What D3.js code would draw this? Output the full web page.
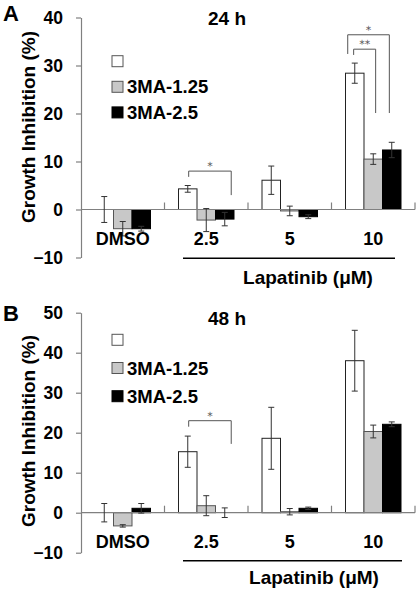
<!DOCTYPE html>
<html>
<head>
<meta charset="utf-8">
<script src="https://cdn.jsdelivr.net/npm/d3@7/dist/d3.min.js"></script>
<style>
  html, body { margin: 0; padding: 0; background: #fff; }
  svg { display: block; font-family: Arial, "Liberation Sans", Helvetica, sans-serif; }
</style>
</head>
<body>
<svg id="chart" width="419" height="592"></svg>
<script>
// ---------- data ----------
const groups = ["DMSO", "2.5", "5", "10"];
const seriesNames = ["", "3MA-1.25", "3MA-2.5"];

// Panel A: 24 h
const a24Control = [0, 4.3, 6.1, 28.4];
const a24ControlErr = [2.7, 0.7, 2.95, 2.1];
const a24MA125 = [-4.0, -2.2, -0.3, 10.5];
const a24MA125Err = [1.5, 2.4, 1.0, 1.1];
const a24MA25 = [-4.0, -2.0, -1.5, 12.4];
const a24MA25Err = [0.5, 1.4, 0.4, 1.6];
const a24Ticks = [-10, 0, 10, 20, 30, 40];

// Panel B: 48 h
const b48Control = [0, 15.25, 18.6, 38.0];
const b48ControlErr = [2.3, 3.9, 7.75, 7.6];
const b48MA125 = [-3.3, 1.75, 0.25, 20.3];
const b48MA125Err = [0.3, 2.5, 0.8, 1.6];
const b48MA25 = [1.1, 0.0, 1.1, 22.1];
const b48MA25Err = [1.2, 1.2, 0.3, 0.6];
const b48Ticks = [-10, 0, 10, 20, 30, 40, 50];

// significance brackets: group, from series, to series, top value, left leg end, right leg end, label
const a24Sig = [
  { group: "2.5", from: 0, to: 2, fromF: 0.55, toF: 0.85, top: 8.0, leftEnd: 6.8, rightEnd: 3.0, label: "*" },
  { group: "10", from: 0, to: 2, fromF: 0.12, toF: 0.37, top: 36.4, leftEnd: 32.4, rightEnd: 20.1, label: "*" },
  { group: "10", from: 0, to: 1, fromF: 0.44, toF: 0.63, top: 33.4, leftEnd: 32.2, rightEnd: 20.1, label: "**" }
];
const b48Sig = [
  { group: "2.5", from: 0, to: 2, fromF: 0.55, toF: 0.85, top: 23.0, leftEnd: 21.5, rightEnd: 17.2, label: "*" }
];

// ---------- layout ----------
const colors = ["#ffffff", "#c8c8c8", "#000000"];
const strokes = ["#222222", "#555555", "#000000"];
const axisColor = "#808080";

const panels = [
  {
    letter: "A", title: "24 h", ticks: a24Ticks,
    values: [a24Control, a24MA125, a24MA25], errs: [a24ControlErr, a24MA125Err, a24MA25Err], sig: a24Sig,
    yTop: 17.5, yBottom: 257.5, legendTop: 55.7, legendStep: 25.6,
    lapLine: [183, 395], lapLineY: 258.3, lapTextX: 308, lapTextY: 284,
    titleY: 25, letterY: 21, ylabelY: 127
  },
  {
    letter: "B", title: "48 h", ticks: b48Ticks,
    values: [b48Control, b48MA125, b48MA25], errs: [b48ControlErr, b48MA125Err, b48MA25Err], sig: b48Sig,
    yTop: 312.7, yBottom: 552.7, legendTop: 334.3, legendStep: 28.2,
    lapLine: [183, 402], lapLineY: 560.7, lapTextX: 314, lapTextY: 584,
    titleY: 325, letterY: 320.5, ylabelY: 431
  }
];

const svg = d3.select("#chart");
const xLeft = 81, xRight = 415;

const x0 = d3.scaleBand().domain(groups).range([xLeft, xRight]).paddingInner(0).paddingOuter(0);
const x1 = d3.scaleBand().domain(d3.range(seriesNames.length)).range([0, x0.bandwidth()]).paddingInner(0).paddingOuter(0.757);
const bw = x1.bandwidth();

panels.forEach(p => {
  const ticks = p.ticks;
  const y = d3.scaleLinear().domain([d3.min(ticks), d3.max(ticks)]).range([p.yBottom, p.yTop]);
  const g = svg.append("g");

  // y axis
  const yAxis = d3.axisLeft(y).tickValues(ticks).tickSize(5).tickSizeOuter(0).tickPadding(13).tickFormat(d3.format("d"));
  const ya = g.append("g").attr("transform", `translate(${xLeft},0)`).call(yAxis);
  ya.select(".domain").attr("stroke", axisColor).attr("stroke-width", 1.2);
  ya.selectAll(".tick line").attr("stroke", axisColor).attr("stroke-width", 1.2);
  ya.selectAll(".tick text").attr("fill", "#000").attr("font-size", "17.5px").attr("font-weight", "bold")
    .attr("font-family", "Arial, 'Liberation Sans', sans-serif");

  // bars
  const data = [];
  groups.forEach((grp, gi) => {
    p.values.forEach((vals, si) => {
      data.push({ group: grp, s: si, v: vals[gi], e: p.errs[si][gi] });
    });
  });

  g.selectAll("rect.bar").data(data).enter().append("rect")
    .attr("class", "bar")
    .attr("x", d => x0(d.group) + x1(d.s))
    .attr("width", bw)
    .attr("y", d => y(Math.max(0, d.v)))
    .attr("height", d => Math.abs(y(d.v) - y(0)))
    .attr("fill", d => colors[d.s])
    .attr("stroke", d => strokes[d.s])
    .attr("stroke-width", 1);

  // x axis line at zero
  g.append("line").attr("x1", xLeft).attr("x2", xRight).attr("y1", y(0)).attr("y2", y(0))
    .attr("stroke", axisColor).attr("stroke-width", 1.2);
  groups.forEach(grp => {
    const tx = x0(grp) + x0.bandwidth();
    g.append("line").attr("x1", tx).attr("x2", tx).attr("y1", y(0)).attr("y2", y(0) - 7)
      .attr("stroke", axisColor).attr("stroke-width", 1.2);
  });

  // error bars
  const cap = 3;
  const eb = g.selectAll("g.err").data(data).enter().append("g").attr("class", "err")
    .attr("stroke", "#333").attr("stroke-width", 1);
  eb.append("line")
    .attr("x1", d => x0(d.group) + x1(d.s) + bw / 2).attr("x2", d => x0(d.group) + x1(d.s) + bw / 2)
    .attr("y1", d => y(d.v + d.e)).attr("y2", d => y(d.v - d.e));
  eb.append("line")
    .attr("x1", d => x0(d.group) + x1(d.s) + bw / 2 - cap).attr("x2", d => x0(d.group) + x1(d.s) + bw / 2 + cap)
    .attr("y1", d => y(d.v + d.e)).attr("y2", d => y(d.v + d.e));
  eb.append("line")
    .attr("x1", d => x0(d.group) + x1(d.s) + bw / 2 - cap).attr("x2", d => x0(d.group) + x1(d.s) + bw / 2 + cap)
    .attr("y1", d => y(d.v - d.e)).attr("y2", d => y(d.v - d.e));

  // group labels
  groups.forEach(grp => {
    g.append("text").attr("x", x0(grp) + x0.bandwidth() / 2).attr("y", y(0) + 35.5)
      .attr("text-anchor", "middle").attr("font-size", "18px").attr("font-weight", "bold").text(grp);
  });

  // significance brackets
  p.sig.forEach(s => {
    const xl = x0(s.group) + x1(s.from) + bw * s.fromF;
    const xr = x0(s.group) + x1(s.to) + bw * s.toF;
    const path = d3.path();
    path.moveTo(xl, y(s.leftEnd));
    path.lineTo(xl, y(s.top));
    path.lineTo(xr, y(s.top));
    path.lineTo(xr, y(s.rightEnd));
    g.append("path").attr("d", path.toString()).attr("fill", "none").attr("stroke", "#555").attr("stroke-width", 1);
    g.append("text").attr("x", (xl + xr) / 2).attr("y", y(s.top) - 1)
      .attr("text-anchor", "middle").attr("font-size", "11px").attr("font-family", "'DejaVu Sans', sans-serif")
      .attr("fill", "#555").attr("text-rendering", "geometricPrecision").text(s.label);
  });

  // legend
  seriesNames.forEach((name, i) => {
    const ly = p.legendTop + i * p.legendStep;
    g.append("rect").attr("x", 112).attr("y", ly).attr("width", 11).attr("height", 11)
      .attr("fill", colors[i]).attr("stroke", i === 0 ? "#555" : strokes[i]).attr("stroke-width", 1);
    if (name) {
      g.append("text").attr("x", 127).attr("y", ly + 12).attr("font-size", "18.5px").attr("font-weight", "bold").text(name);
    }
  });

  // title
  g.append("text").attr("x", 208).attr("y", p.titleY).attr("font-size", "19px").attr("font-weight", "bold").text(p.title);
  // panel letter
  g.append("text").attr("x", 3).attr("y", p.letterY).attr("font-size", "22px").attr("font-weight", "bold").text(p.letter);
  // y label
  g.append("text").attr("transform", `translate(35,${p.ylabelY}) rotate(-90)`)
    .attr("text-anchor", "middle").attr("font-size", "19px").attr("font-weight", "bold").text("Growth Inhibition (%)");

  // Lapatinib line + label
  g.append("line").attr("x1", p.lapLine[0]).attr("x2", p.lapLine[1]).attr("y1", p.lapLineY).attr("y2", p.lapLineY)
    .attr("stroke", "#000").attr("stroke-width", 1.5);
  g.append("text").attr("x", p.lapTextX).attr("y", p.lapTextY).attr("text-anchor", "middle")
    .attr("font-size", "19px").attr("font-weight", "bold").text("Lapatinib (\u03bcM)");
});
</script>
</body>
</html>
